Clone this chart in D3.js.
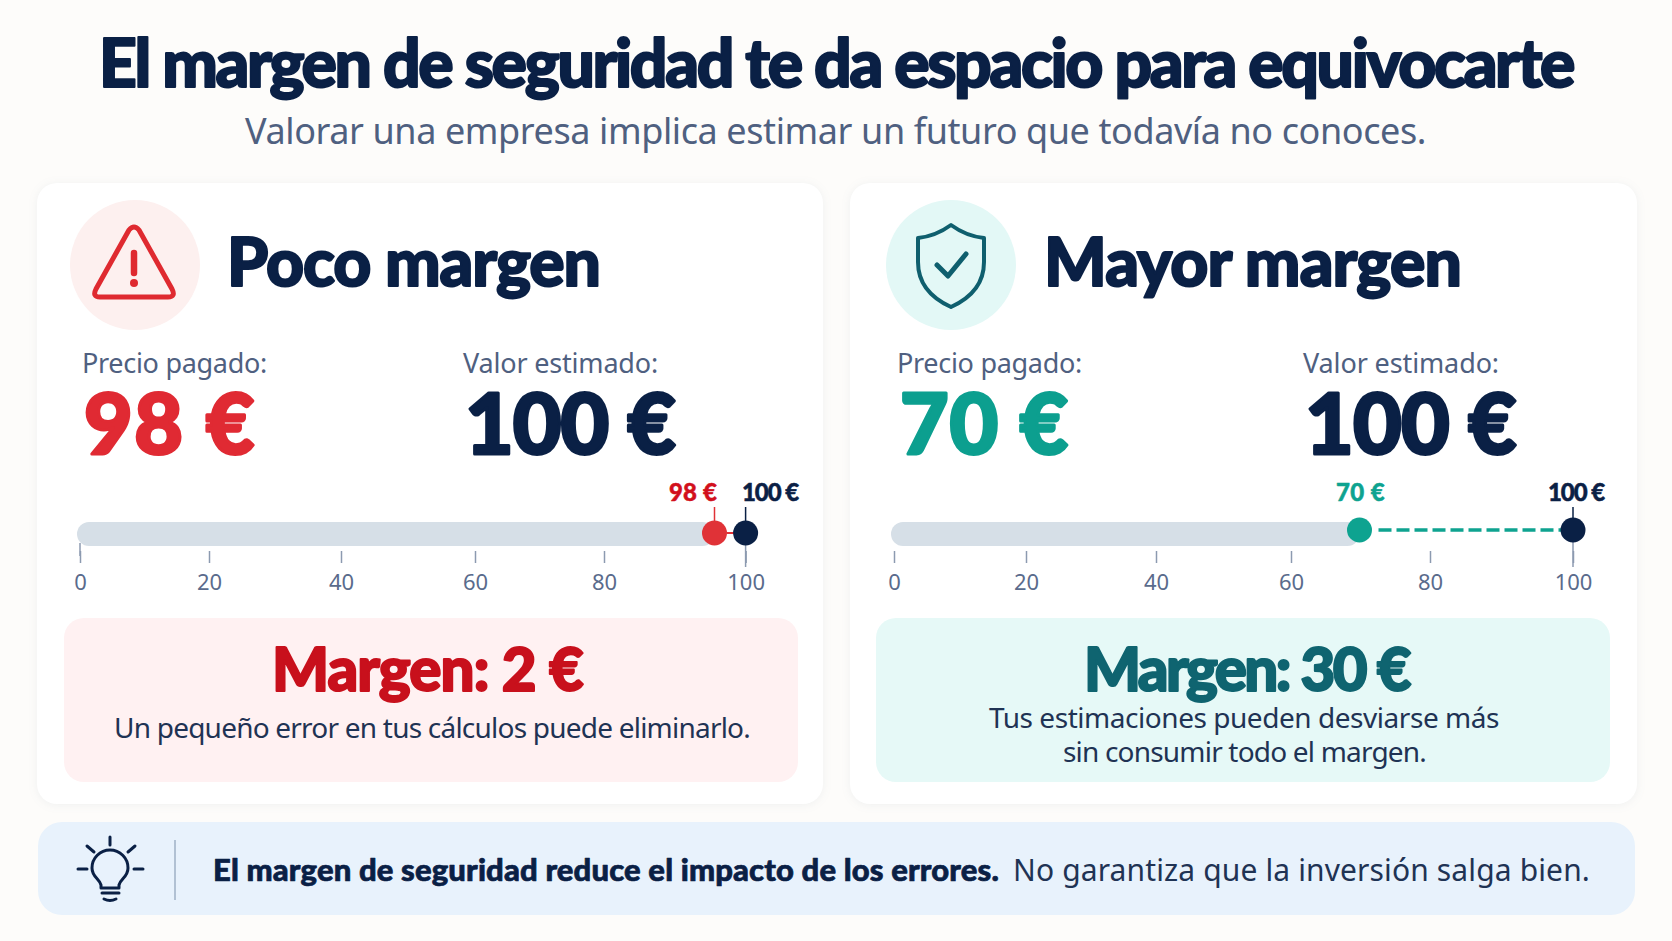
<!DOCTYPE html>
<html lang="es">
<head>
<meta charset="utf-8">
<title>Margen de seguridad</title>
<script src="https://cdn.jsdelivr.net/npm/d3@7"></script>
<style>
  html, body { margin: 0; padding: 0; background: #fdfcfa; }
  svg { display: block; }
  text { font-family: "Noto Sans", "Open Sans", sans-serif; }
  text.heavy { font-family: Lato, "Noto Sans", sans-serif; stroke-linejoin: round; }
  .card { filter: drop-shadow(0 1px 5px rgba(60, 80, 110, 0.07)); }
</style>
</head>
<body>
<div id="chart"></div>
<script>
// values
const panels = ["Poco margen", "Mayor margen"];
const pricePaid = [98, 70];
const estimatedValue = [100, 100];
const marginValue = [2, 30];
const axisTicks = [0, 20, 40, 60, 80, 100];
const noteLines = [
  ["Un pequeño error en tus cálculos puede eliminarlo."],
  ["Tus estimaciones pueden desviarse más", "sin consumir todo el margen."]
];

const width = 1672, height = 941;
const navy = "#0a2045", slate = "#4f6080", tickGrey = "#8c9ab0";

const svg = d3.select("#chart").append("svg")
  .attr("width", width)
  .attr("height", height);

svg.append("rect").attr("width", width).attr("height", height).attr("fill", "#fdfcfa");

// text from x0 to x1: the letter spacing is worked out so that it fills that width
// heavy = outline width that thickens the Lato glyphs up to the reference's weight
function label(parent, str, x0, x1, y, size, weight, fill, heavy) {
  const t = parent.append("text")
    .attr("class", heavy ? "heavy" : null)
    .attr("x", x0)
    .attr("y", y)
    .style("font-size", size + "px")
    .style("font-weight", weight)
    .attr("fill", fill)
    .text(str);
  if (heavy) t.attr("stroke", fill).attr("stroke-width", heavy);
  const natural = t.node().getComputedTextLength();
  t.style("letter-spacing", ((x1 - x0 - natural) / str.length).toFixed(3) + "px");
  return t;
}

//+ TITLE
label(svg, "El margen de seguridad te da espacio para equivocarte", 99, 1573, 87, 66, 900, navy, 2);
label(svg, "Valorar una empresa implica estimar un futuro que todavía no conoces.", 245, 1426, 144, 36, 400, slate);

// layout of each panel. The picture's axes are not quite even, so the scales are piecewise
const layout = [
  {
    card: [37, 823], box: [64, 798], icon: 135, headX: [227, 600],
    paidLabelX: [82, 267], estLabelX: [463, 658],
    paidX: [84, 256], estX: [465, 675], marginX: [272, 583],
    noteX: [[114, 750]], noteY: [738],
    domain: [0, 20, 40, 60, 80, 98, 100],
    range: [80, 209, 341, 475, 604, 714.5, 745.6],
    markY: 533, barEnd: 98,
    paidTagX: [669, 717], estTagX: [742, 798],
    accent: "#e03237", number: "#e02a33", accentDark: "#c8101c", tagColor: "#d2101c",
    boxFill: "#fff1f2", circleFill: "#fdf0ef"
  },
  {
    card: [850, 1637], box: [876, 1610], icon: 951, headX: [1044, 1461],
    paidLabelX: [897, 1082], estLabelX: [1303, 1499],
    paidX: [900, 1069], estX: [1305, 1516], marginX: [1084, 1409],
    noteX: [[989, 1499], [1063, 1426]], noteY: [728, 762],
    domain: [0, 20, 40, 60, 70, 80, 100],
    range: [894, 1026, 1156, 1291, 1359.5, 1430, 1573],
    markY: 530, barEnd: 70,
    paidTagX: [1336, 1385], estTagX: [1548, 1604],
    accent: "#0ea390", number: "#0c9f8f", accentDark: "#0f6470", tagColor: "#0ea390",
    boxFill: "#e6f9f7", circleFill: "#e3f8f6"
  }
];

panels.forEach((name, i) => {
  const p = layout[i];
  const g = svg.append("g");

  g.append("rect").attr("class", "card")
    .attr("x", p.card[0]).attr("y", 183)
    .attr("width", p.card[1] - p.card[0]).attr("height", 621)
    .attr("rx", 20).attr("fill", "#ffffff");

  g.append("circle").attr("cx", p.icon).attr("cy", 265).attr("r", 65).attr("fill", p.circleFill);

  label(g, name, p.headX[0], p.headX[1], 286, 66, 900, navy, 2);

  label(g, "Precio pagado:", p.paidLabelX[0], p.paidLabelX[1], 373, 27, 400, slate);
  label(g, "Valor estimado:", p.estLabelX[0], p.estLabelX[1], 373, 27, 400, slate);

  label(g, pricePaid[i] + " €", p.paidX[0], p.paidX[1], 454, 84, 900, p.number, 3);
  label(g, estimatedValue[i] + " €", p.estX[0], p.estX[1], 454, 84, 900, navy, 3);

  //+ SCALE AND AXIS
  const x = d3.scaleLinear().domain(p.domain).range(p.range);

  const axis = d3.axisBottom(x)
    .tickValues(axisTicks)
    .tickSize(12)
    .tickPadding(11)
    .tickFormat(d3.format("d"));

  g.append("g")
    .attr("transform", "translate(0,551)")
    .call(axis)
    .call(a => a.select(".domain").remove())
    .call(a => a.selectAll("line").attr("stroke", tickGrey).attr("stroke-width", 1.5))
    .call(a => a.selectAll("text")
      .style("font-size", "22px")
      .style("font-family", '"Noto Sans", sans-serif')
      .attr("fill", "#5a6b8c"));

  // the tick at the estimated value is longer, and the first one too on the left panel
  g.append("line").attr("x1", x(estimatedValue[i])).attr("x2", x(estimatedValue[i]))
    .attr("y1", p.markY + 10).attr("y2", 567).attr("stroke", tickGrey).attr("stroke-width", 1.5);
  if (i === 0) {
    g.append("line").attr("x1", x(0)).attr("x2", x(0)).attr("y1", 543).attr("y2", 556)
      .attr("stroke", tickGrey).attr("stroke-width", 1.5);
  }

  //+ BAR
  g.append("rect")
    .attr("x", x(0) - 3).attr("y", 522)
    .attr("width", x(p.barEnd) - x(0) + 3).attr("height", 24)
    .attr("rx", 12).attr("fill", "#d6dfe7");

  // gap between price and value
  const gap = g.append("line")
    .attr("x1", x(pricePaid[i]) + 12).attr("x2", x(estimatedValue[i]) - 8)
    .attr("y1", p.markY).attr("y2", p.markY)
    .attr("stroke", p.accent)
    .attr("stroke-width", i === 0 ? 2 : 3.5);
  if (i === 1) gap.attr("x1", x(pricePaid[i]) + 19).attr("stroke-dasharray", "13 5");

  // stems from the tags down to the markers
  g.append("line").attr("x1", x(pricePaid[i])).attr("x2", x(pricePaid[i]))
    .attr("y1", 507).attr("y2", p.markY).attr("stroke", p.accent).attr("stroke-width", i === 0 ? 1.5 : 0);
  g.append("line").attr("x1", x(estimatedValue[i])).attr("x2", x(estimatedValue[i]))
    .attr("y1", 507).attr("y2", p.markY).attr("stroke", navy).attr("stroke-width", 1.5);

  g.append("circle").attr("cx", x(pricePaid[i])).attr("cy", p.markY).attr("r", 12.5).attr("fill", p.accent);
  g.append("circle").attr("cx", x(estimatedValue[i])).attr("cy", p.markY).attr("r", 12.5).attr("fill", navy);

  label(g, pricePaid[i] + " €", p.paidTagX[0], p.paidTagX[1], 501, 24, 900, p.tagColor, 0.5);
  label(g, estimatedValue[i] + " €", p.estTagX[0], p.estTagX[1], 501, 24, 900, navy, 0.5);

  //+ MARGIN BOX
  g.append("rect")
    .attr("x", p.box[0]).attr("y", 618)
    .attr("width", p.box[1] - p.box[0]).attr("height", 164)
    .attr("rx", 20).attr("fill", p.boxFill);

  label(g, "Margen: " + marginValue[i] + " €", p.marginX[0], p.marginX[1], 691, 60, 900, p.accentDark, 2);

  noteLines[i].forEach((line, j) => {
    label(g, line, p.noteX[j][0], p.noteX[j][1], p.noteY[j], 28, 400, "#1f3354");
  });
});

//+ ICONS
const warn = svg.append("g")
  .attr("fill", "none").attr("stroke", "#df2a30").attr("stroke-width", 5)
  .attr("stroke-linejoin", "round").attr("stroke-linecap", "round");
warn.append("path").attr("d", "M129 230 Q134 224 139 230 L172 289 Q176 297 168 297 L100 297 Q92 297 96 289 Z");
warn.append("line").attr("x1", 134).attr("x2", 134).attr("y1", 253).attr("y2", 273).attr("stroke-width", 6.5);
warn.append("circle").attr("cx", 134).attr("cy", 283).attr("r", 4).attr("fill", "#df2a30").attr("stroke", "none");

const shield = svg.append("g")
  .attr("fill", "none").attr("stroke", "#0f5f6e").attr("stroke-width", 4)
  .attr("stroke-linejoin", "round").attr("stroke-linecap", "round");
shield.append("path").attr("d", "M951 225 Q936 236 918 238 L918 262 Q918 292 951 307 Q984 292 984 262 L984 238 Q966 236 951 225 Z");
shield.append("path").attr("d", "M937 265 L948 276 L966 254").attr("stroke-width", 5);

//+ BOTTOM BAND
svg.append("rect")
  .attr("x", 38).attr("y", 822)
  .attr("width", 1597).attr("height", 93)
  .attr("rx", 24).attr("fill", "#e8f2fc");

const bulb = svg.append("g")
  .attr("fill", "none").attr("stroke", navy).attr("stroke-width", 3)
  .attr("stroke-linecap", "round").attr("stroke-linejoin", "round");
bulb.append("path").attr("d", "M101 888 L101 885 C99 878 92 877 92 868 A18 18 0 1 1 128 868 C128 877 121 878 119 885 L119 888 Z");
bulb.append("path").attr("d", "M102 893 L119 893 M104 899 Q110 902 116 899");
bulb.append("path").attr("d", "M110 837 L110 845 M87 846 L94 852 M135 846 L128 852 M78 869 L87 869 M134 869 L143 869");

svg.append("line").attr("x1", 175).attr("x2", 175).attr("y1", 840).attr("y2", 900)
  .attr("stroke", "#9fb0c6").attr("stroke-width", 1.5);

label(svg, "El margen de seguridad reduce el impacto de los errores.", 213, 999, 881, 31, 900, navy, 0.7);
label(svg, "No garantiza que la inversión salga bien.", 1013, 1590, 881, 30, 400, "#1f3354");
</script>
</body>
</html>
